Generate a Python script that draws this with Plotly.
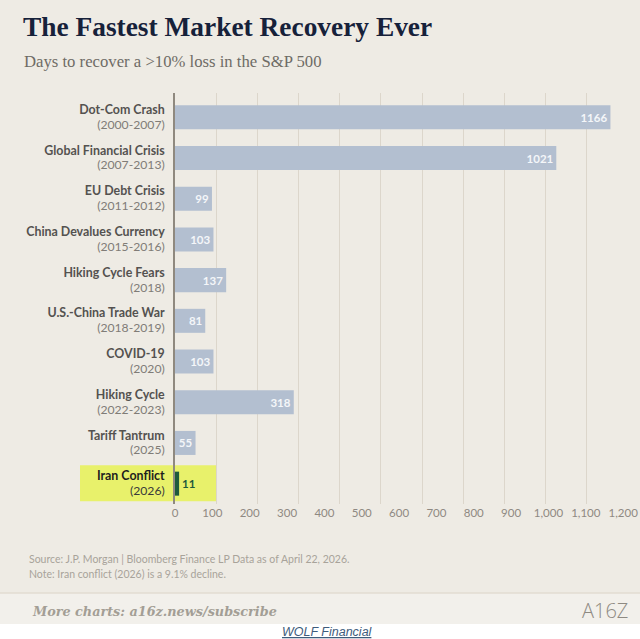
import plotly.graph_objects as go

names = ["Dot-Com Crash", "Global Financial Crisis", "EU Debt Crisis",
         "China Devalues Currency", "Hiking Cycle Fears", "U.S.-China Trade War",
         "COVID-19", "Hiking Cycle", "Tariff Tantrum", "Iran Conflict"]
years = ["(2000-2007)", "(2007-2013)", "(2011-2012)", "(2015-2016)", "(2018)",
         "(2018-2019)", "(2020)", "(2022-2023)", "(2025)", "(2026)"]
days = [1166, 1021, 99, 103, 137, 81, 103, 318, 55, 11]
x_ticks = [0, 100, 200, 300, 400, 500, 600, 700, 800, 900, 1000, 1100, 1200]

W, H = 640, 639
ML, MR, MT, MB = 175, 12, 93, 135
PW, PH = W - ML - MR, H - MT - MB
XMAX = 1213

def px(x):
    return (x - ML) / PW

def py(y):
    return (H - MB - y) / PH

BG = "#eeebe4"
BAR = "#b3bfd0"
GREEN = "#1f5a3c"

highlight = names[-1]
bar_colors = [GREEN if n == highlight else BAR for n in names]
text_pos = ["outside" if n == highlight else "inside" for n in names]
text_cols = [GREEN if n == highlight else "#f4f6f9" for n in names]

ticktext = []
for n, yv in zip(names, years):
    c = "#1e1e1e" if n == highlight else "#545250"
    c2 = "#3a3a3a" if n == highlight else "#807c77"
    ticktext.append(f"<span style='color:{c};font-size:12.4px'><b>{n}</b></span><br>"
                    f"<span style='color:{c2};font-size:12.2px'>{yv}</span>")

fig = go.Figure()
fig.add_trace(go.Bar(
    x=days, y=names, orientation="h",
    marker=dict(color=bar_colors, line=dict(width=0)),
    width=0.59,
    text=[str(d) for d in days], textposition=text_pos,
    insidetextanchor="end",
    textfont=dict(family="Lato", size=11.5, color=text_cols, weight="bold"),
    cliponaxis=False, hoverinfo="skip",
))
fig.add_trace(go.Scatter(
    x=[0], y=[names[0]], xaxis="x2", mode="markers",
    marker=dict(opacity=0), hoverinfo="skip", showlegend=False,
))

fig.update_layout(
    width=W, height=H,
    margin=dict(l=ML, r=MR, t=MT, b=MB, autoexpand=False),
    paper_bgcolor=BG, plot_bgcolor=BG,
    showlegend=False, bargap=0.4,
    uniformtext=dict(minsize=11, mode="show"),
    xaxis=dict(range=[0, XMAX], tick0=0, dtick=XMAX / 11, showticklabels=False,
               showgrid=True, gridcolor="#dcd6cb", gridwidth=1, zeroline=False,
               ticks="", fixedrange=True, automargin=False),
    xaxis2=dict(range=[0, XMAX], overlaying="x", anchor="y", side="bottom",
                tickvals=x_ticks, ticktext=[f"{v:,}" for v in x_ticks],
                showgrid=False, zeroline=False, ticks="", automargin=False,
                tickfont=dict(family="Lato", size=11.5, color="#8e8982"),
                ticklabelstandoff=0),
    yaxis=dict(categoryorder="array", categoryarray=names, autorange="reversed",
               tickvals=names, ticktext=ticktext, showgrid=False,
               showline=True, linecolor="#8f897f", linewidth=2,
               ticks="", ticklabelstandoff=6, automargin=False,
               tickfont=dict(family="Lato", size=11.4, color="#4f4d4a")),
    font=dict(family="Lato"),
)

# highlight box behind the Iran Conflict row
fig.add_shape(type="rect", xref="paper", yref="y",
              x0=px(80), x1=px(217), y0=len(names) - 1 - 0.45, y1=len(names) - 1 + 0.43,
              fillcolor="#e8f16b", line=dict(width=0), layer="between")

# footer band
fig.add_shape(type="rect", xref="paper", yref="paper", x0=px(0), x1=px(W),
              y0=py(624), y1=py(593), fillcolor="#f2f0eb", line=dict(width=0), layer="below")
fig.add_shape(type="line", xref="paper", yref="paper", x0=px(0), x1=px(W),
              y0=py(593), y1=py(593), line=dict(color="#e2ddd2", width=1.5), layer="below")
fig.add_shape(type="rect", xref="paper", yref="paper", x0=px(0), x1=px(W),
              y0=py(H + 2), y1=py(624), fillcolor="#ffffff", line=dict(width=0), layer="below")

def note(text, x, y, size, color, family, xanchor="left", **kw):
    fig.add_annotation(text=text, xref="paper", yref="paper", x=px(x), y=py(y),
                       xanchor=xanchor, yanchor="middle", showarrow=False,
                       font=dict(size=size, color=color, family=family, **kw))

note("The Fastest Market Recovery Ever", 21, 27, 27.4, "#16213a", "Liberation Serif", weight="bold")
note("Days to recover a &gt;10% loss in the S&amp;P 500", 22, 61, 16.7, "#6e6b66", "Liberation Serif")
note("Source: J.P. Morgan | Bloomberg Finance LP Data as of April 22, 2026.", 27, 559, 10.5, "#a8a39a", "Lato")
note("Note: Iran conflict (2026) is a 9.1% decline.", 27, 574, 10.5, "#a8a39a", "Lato")
note("<i>More charts: a16z.news/subscribe</i>", 30, 611, 12.8, "#a39e95", "DejaVu Serif", weight="bold")
note("A16Z", 630, 610, 20, "#8e8a82", "Open Sans", xanchor="right", weight=300)
note("<u>WOLF Financial</u>", 327, 632, 12.5, "#3e5c7c", "Liberation Sans", xanchor="center", style="italic")

fig.write_html("out.html")
